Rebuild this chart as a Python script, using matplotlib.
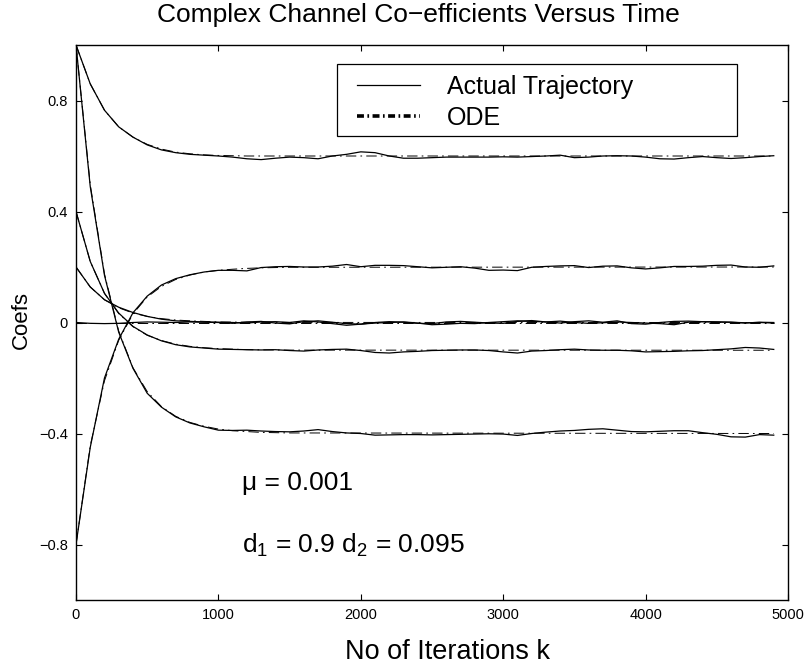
import matplotlib
matplotlib.use("Agg")
import matplotlib.pyplot as plt
from matplotlib.lines import Line2D
from matplotlib.patches import Rectangle

plt.rcParams['font.family'] = ['Liberation Sans', 'DejaVu Sans']
plt.rcParams['mathtext.fontset'] = 'custom'
plt.rcParams['mathtext.rm'] = 'Liberation Sans'
plt.rcParams['mathtext.it'] = 'Liberation Sans:italic'
plt.rcParams['lines.scale_dashes'] = False

# ---------------- data ----------------
iterations = list(range(0, 5000, 100))
ode_iterations = [0, 100, 200, 300, 400, 500, 600, 700, 800, 900, 1000,
                  1100, 1200, 1300, 1400, 1500, 4900]

actual_a = [1.000, 0.860, 0.765, 0.705, 0.668, 0.640, 0.622, 0.612, 0.606, 0.603,
            0.600, 0.596, 0.590, 0.587, 0.592, 0.596, 0.594, 0.590, 0.600, 0.606,
            0.615, 0.612, 0.600, 0.592, 0.592, 0.594, 0.596, 0.596, 0.596, 0.596,
            0.597, 0.596, 0.598, 0.600, 0.603, 0.594, 0.596, 0.600, 0.601, 0.600,
            0.596, 0.590, 0.589, 0.594, 0.598, 0.594, 0.591, 0.594, 0.598, 0.601]
actual_b = [-0.800, -0.450, -0.200, -0.060, 0.035, 0.095, 0.135, 0.158, 0.172, 0.182,
            0.188, 0.188, 0.186, 0.198, 0.201, 0.202, 0.200, 0.200, 0.203, 0.209,
            0.201, 0.206, 0.206, 0.205, 0.201, 0.197, 0.199, 0.201, 0.196, 0.188,
            0.189, 0.187, 0.199, 0.202, 0.204, 0.205, 0.198, 0.203, 0.204, 0.197,
            0.193, 0.197, 0.202, 0.202, 0.203, 0.206, 0.207, 0.200, 0.199, 0.204]
actual_c = [0.200, 0.128, 0.082, 0.055, 0.036, 0.022, 0.012, 0.006, 0.004, 0.002,
            0.001, 0.000, -0.002, 0.002, 0.003, 0.000, 0.006, 0.002, -0.004, -0.010,
            -0.006, -0.002, 0.000, 0.002, -0.002, -0.008, -0.006, -0.003, -0.004, 0.000,
            0.003, 0.006, 0.004, 0.002, 0.005, 0.000, -0.003, -0.001, 0.002, 0.000,
            -0.002, -0.004, -0.008, 0.001, 0.003, 0.002, 0.001, -0.001, 0.000, -0.002]
actual_d = [0.000, -0.003, -0.004, -0.003, 0.000, 0.002, 0.001, 0.000, 0.002, 0.001,
            0.000, -0.003, 0.002, 0.004, -0.002, -0.005, 0.003, 0.006, 0.001, -0.004,
            -0.006, 0.000, 0.003, 0.001, -0.003, -0.004, 0.002, 0.004, 0.001, -0.002,
            -0.003, 0.004, 0.007, 0.002, -0.002, 0.003, 0.006, 0.001, 0.006, -0.004,
            -0.006, 0.000, 0.004, 0.005, 0.003, 0.002, 0.001, -0.002, 0.001, 0.000]
actual_e = [0.400, 0.220, 0.105, 0.034, -0.014, -0.045, -0.066, -0.080, -0.088, -0.092,
            -0.096, -0.097, -0.098, -0.099, -0.098, -0.101, -0.103, -0.099, -0.097, -0.096,
            -0.101, -0.108, -0.110, -0.106, -0.104, -0.101, -0.100, -0.099, -0.099, -0.101,
            -0.106, -0.110, -0.103, -0.101, -0.098, -0.096, -0.099, -0.100, -0.100, -0.102,
            -0.106, -0.105, -0.104, -0.102, -0.101, -0.098, -0.095, -0.090, -0.092, -0.097]
actual_f = [1.000, 0.490, 0.170, -0.035, -0.165, -0.255, -0.305, -0.340, -0.362, -0.376,
            -0.388, -0.389, -0.388, -0.391, -0.393, -0.394, -0.391, -0.386, -0.393, -0.398,
            -0.400, -0.406, -0.405, -0.404, -0.404, -0.405, -0.404, -0.403, -0.402, -0.401,
            -0.402, -0.407, -0.400, -0.395, -0.391, -0.389, -0.385, -0.383, -0.388, -0.393,
            -0.394, -0.392, -0.390, -0.390, -0.397, -0.403, -0.412, -0.413, -0.404, -0.406]

ode_a = [1.000, 0.860, 0.765, 0.705, 0.668, 0.642, 0.625, 0.614, 0.608, 0.604, 0.602,
         0.601, 0.600, 0.600, 0.600, 0.600, 0.600]
ode_b = [-0.800, -0.445, -0.210, -0.064, 0.031, 0.092, 0.130, 0.155, 0.171, 0.182, 0.188,
         0.192, 0.195, 0.197, 0.198, 0.199, 0.200]
ode_c = [0.200, 0.128, 0.082, 0.053, 0.034, 0.022, 0.014, 0.009, 0.006, 0.004, 0.002,
         0.0015, 0.001, 0.0006, 0.0004, 0.0003, 0.000]
ode_d = [0.0, 0.0, 0.0, 0.0, 0.0, 0.0, 0.0, 0.0, 0.0, 0.0, 0.0,
         0.0, 0.0, 0.0, 0.0, 0.0, 0.0]
ode_e = [0.400, 0.220, 0.105, 0.032, -0.015, -0.046, -0.065, -0.078, -0.086, -0.091, -0.094,
         -0.096, -0.098, -0.0985, -0.099, -0.0995, -0.100]
ode_f = [1.000, 0.497, 0.175, -0.031, -0.163, -0.249, -0.303, -0.338, -0.360, -0.374, -0.384,
         -0.390, -0.393, -0.396, -0.397, -0.398, -0.400]

actual_series = [actual_a, actual_b, actual_c, actual_d, actual_e, actual_f]
ode_series = [ode_a, ode_b, ode_c, ode_d, ode_e, ode_f]

x_ticks = [0, 1000, 2000, 3000, 4000, 5000]
x_tick_labels = ['0', '1000', '2000', '3000', '4000', '5000']
y_ticks = [-0.8, -0.4, 0, 0.4, 0.8]
y_tick_labels = ['\u22120.8', '\u22120.4', '0', '0.4', '0.8']

title = 'Complex Channel Co\u2212efficients Versus Time'
x_label = 'No of Iterations k'
y_label = 'Coefs'
legend_labels = ['Actual Trajectory', 'ODE']
mu_text = '\u03bc = 0.001'
d_text = r'd$_{1}$ = 0.9 d$_{2}$ = 0.095'

# ---------------- figure ----------------
W, H = 808, 670
fig = plt.figure(figsize=(W / 100, H / 100), dpi=100)
ax = fig.add_axes([76 / W, 1 - 600 / H, (788 - 76) / W, (600 - 45) / H])

ode_dashes = (7.5, 3.0, 1.2, 3.0)
for ys in actual_series:
    ax.plot(iterations, ys, color='black', lw=0.9, solid_joinstyle='round')
for ys in ode_series:
    ax.plot(ode_iterations, ys, color='black', lw=0.7, dashes=ode_dashes)

ax.set_xlim(0, 5000)
ax.set_ylim(-1, 1)
ax.set_xticks(x_ticks)
ax.set_xticklabels(x_tick_labels)
ax.set_yticks(y_ticks)
ax.set_yticklabels(y_tick_labels)
ax.tick_params(direction='in', length=4.5, width=0.8, top=True, right=True,
               labelsize=10.5, pad=6)
for s in ax.spines.values():
    s.set_linewidth(1.0)

fig.text(418 / W, 1 - 15 / H, title, ha='center', va='center', fontsize=19)
fig.text(447 / W, 1 - 652 / H, x_label, ha='center', va='center', fontsize=19.5)
fig.text(21 / W, 1 - 320 / H, y_label, ha='center', va='center', fontsize=16,
         rotation=90)

ax.text(1166, -0.577, mu_text, ha='left', va='center', fontsize=19)
ax.text(1166, -0.805, d_text, ha='left', va='center', fontsize=19)

# legend box
box = Rectangle((337 / W, 1 - 136 / H), (737 - 337) / W, (136 - 64) / H,
                transform=fig.transFigure, facecolor='white', edgecolor='black',
                lw=0.9, zorder=5)
fig.add_artist(box)

handles = [Line2D([], [], color='black', lw=0.9),
           Line2D([], [], color='black', lw=2.6, dashes=(5, 2.5, 1.2, 2.5))]
leg = fig.legend(handles, legend_labels, loc='upper left',
                 bbox_to_anchor=(357 / W, 1 - 75 / H),
                 fontsize=18, frameon=False, handlelength=2.52, handletextpad=1.08,
                 labelspacing=0.28, borderpad=0.0, borderaxespad=0.0)
leg.set_zorder(6)

fig.savefig('out.png', dpi=100)
